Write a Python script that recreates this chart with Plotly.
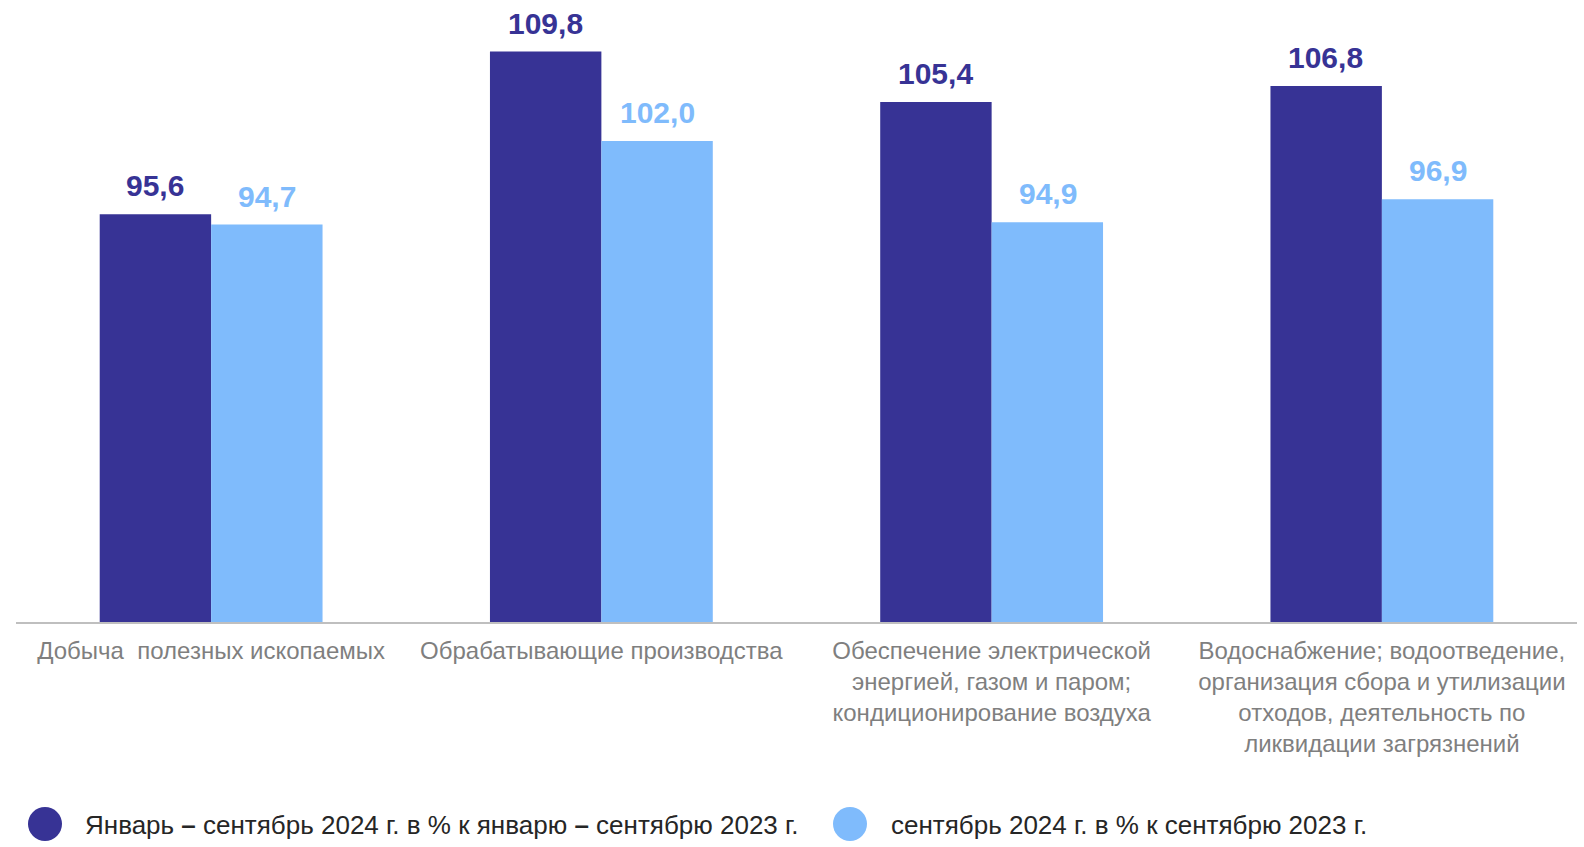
import plotly.graph_objects as go

categories = [
    "Добыча  полезных ископаемых",
    "Обрабатывающие производства",
    "Обеспечение электрической<br>энергией, газом и паром;<br>кондиционирование воздуха",
    "Водоснабжение; водоотведение,<br>организация сбора и утилизации<br>отходов, деятельность по<br>ликвидации загрязнений",
]
series_names = [
    "Январь <b>–</b> сентябрь 2024 г. в % к январю <b>–</b> сентябрю 2023 г.",
    "сентябрь 2024 г. в % к сентябрю 2023 г.",
]
jan_sep = [95.6, 109.8, 105.4, 106.8]
sep = [94.7, 102.0, 94.9, 96.9]

DARK = "#373395"
LIGHT = "#7FBBFC"
FONT = "Liberation Sans, Arial, sans-serif"

fig = go.Figure()
fig.add_trace(go.Bar(x=categories, y=jan_sep, name=series_names[0], marker_color=DARK,
                     marker_line_width=0, showlegend=False))
fig.add_trace(go.Bar(x=categories, y=sep, name=series_names[1], marker_color=LIGHT,
                     marker_line_width=0, showlegend=False))

annotations = []
for vals, color, shift in [(jan_sep, DARK, -56), (sep, LIGHT, 56)]:
    for c, v in zip(categories, vals):
        annotations.append(dict(
            x=c, y=v, xref="x", yref="y", text=f"{v:.1f}".replace(".", ","),
            showarrow=False, xshift=shift, yshift=10, yanchor="bottom",
            font=dict(family=FONT, size=30, color=color, weight="bold"),
        ))

# manual legend
PW = 1561
legend_items = [(series_names[0], DARK, 45, 85), (series_names[1], LIGHT, 850, 891)]
shapes = []
LY = -0.33
for name, color, cx, tx in legend_items:
    shapes.append(dict(type="circle", xref="paper", yref="paper", xsizemode="pixel",
                       ysizemode="pixel", xanchor=(cx - 16) / PW, yanchor=LY,
                       x0=-17, x1=17, y0=-17, y1=17, fillcolor=color, line_width=0))
    annotations.append(dict(x=(tx - 16) / PW, y=LY, xref="paper", yref="paper",
                            text=name, showarrow=False, xanchor="left", yanchor="middle",
                            xshift=-2, yshift=-1,
                            font=dict(family=FONT, size=26, color="#262626")))

fig.update_layout(
    width=1584, height=847, autosize=False,
    margin=dict(l=16, r=7, t=10, b=225),
    plot_bgcolor="white", paper_bgcolor="white",
    barmode="group", bargap=0.429, bargroupgap=0,
    separators=", ",
    annotations=annotations, shapes=shapes,
    font=dict(family=FONT),
)
fig.update_xaxes(showline=True, linecolor="#BFBFBF", linewidth=2, ticks="",
                 tickfont=dict(family=FONT, size=24, color="#7F7F7F"),
                 ticklabelstandoff=6)
fig.update_yaxes(range=[60, 60 + 612 / 11.455], visible=False, showgrid=False)

fig.write_html(
    "out.html",
    config={"displayModeBar": False, "responsive": False},
    post_script=(
        "document.documentElement.style.margin='0';"
        "document.documentElement.style.overflow='hidden';"
        "document.body.style.margin='0';"
        "document.body.style.overflow='hidden';"
        "document.body.style.lineHeight='0';"
    ),
)
